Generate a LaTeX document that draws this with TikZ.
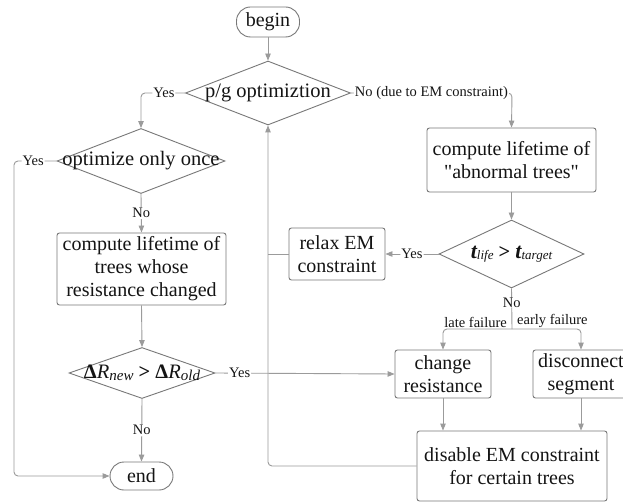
\documentclass[tikz,border=0pt]{standalone}
\usepackage{fontspec}
\setmainfont{Liberation Serif}
\usetikzlibrary{shapes.geometric,arrows.meta}
\definecolor{linegray}{RGB}{155,155,155}
\definecolor{boxgray}{RGB}{120,120,120}
\definecolor{txt}{RGB}{20,20,20}
\begin{document}
\begin{tikzpicture}[x=1pt,y=-1pt,
  box/.style={draw=boxgray, line width=0.9pt, rounded corners=2.5pt, align=center,
    inner sep=1pt, text=txt, font=\fontsize{20}{23}\selectfont},
  term/.style={box, rounded corners=14pt},
  dec/.style={diamond, draw=boxgray, line width=0.9pt, inner sep=0pt, text=txt,
    font=\fontsize{20.5}{23}\selectfont},
  conn/.style={draw=linegray, line width=0.9pt, rounded corners=4pt},
  arr/.style={conn, -{Triangle[length=7pt,width=5.5pt]}},
  lab/.style={font=\fontsize{14.5}{16}\selectfont, text=txt, fill=white, inner sep=1pt}]
\useasboundingbox[fill=white] (0,0) rectangle (623,502);

% nodes
\node[term, minimum width=63pt, minimum height=30pt] (begin) at (268,22) {begin};
\node[dec, minimum width=165pt, minimum height=64pt] (pg) at (268,93) {\makebox[0pt]{p/g optimiztion}};
\node[dec, minimum width=168pt, minimum height=65pt] (opt) at (141,161) {\makebox[0pt]{optimize only once}};
\node[box, minimum width=169pt, minimum height=72pt] (comp) at (141.5,269) {compute lifetime of\\trees whose\\resistance changed};
\node[dec, minimum width=146pt, minimum height=51pt] (delta) at (142,373)
  {\makebox[0pt]{{\bfseries Δ}{\itshape R}\raisebox{-1.5pt}{\fontsize{15}{16}\selectfont\itshape new} {\bfseries >} {\bfseries Δ}{\itshape R}\raisebox{-1.5pt}{\fontsize{15}{16}\selectfont\itshape old}}};
\node[term, minimum width=63pt, minimum height=28pt] (end) at (141.5,476) {end};
\node[box, minimum width=96pt, minimum height=52pt] (relax) at (337,254) {relax EM\\constraint};
\node[box, minimum width=169pt, minimum height=64pt] (abn) at (511.5,160) {compute lifetime of\\\textquotedbl abnormal trees\textquotedbl};
\node[dec, minimum width=145pt, minimum height=68pt] (tlife) at (511.5,254)
  {\makebox[0pt]{{\fontsize{22}{24}\selectfont\bfseries\itshape t}\raisebox{-1.5pt}{\fontsize{13}{14}\selectfont\itshape life} {\bfseries >} {\fontsize{22}{24}\selectfont\bfseries\itshape t}\raisebox{-1.5pt}{\fontsize{13}{14}\selectfont\itshape target}}};
\node[box, minimum width=96pt, minimum height=48pt] (change) at (443,374) {change\\resistance};
\node[box, minimum width=96pt, minimum height=48pt] (disc) at (581,374) {disconnect\\segment};
\node[box, minimum width=190pt, minimum height=70pt] (disable) at (512,466) {disable EM constraint\\for certain trees};

\coordinate (split) at (512,329);
\coordinate (leftc) at (14,161);
\coordinate (retc) at (268,466);

% connectors
\draw[arr] (begin) -- (pg);
\draw[arr] (pg.west) -- (141,93) node[lab, pos=0.48] {Yes} -- (opt.north);
\draw[arr] (pg.east) -- (512,93) node[lab, pos=0.5] {No (due to EM constraint)} -- (abn.north);
\draw[arr] (opt.west) -- (leftc) node[lab, pos=0.55] {Yes} |- (end.west);
\draw[arr] (opt.south) -- node[lab] {No} (comp.north);
\draw[arr] (comp.south) -- (delta.north);
\draw[arr] (delta.east) -- node[lab, pos=0.135] {Yes} (change.west);
\draw[arr] (delta.south) -- node[lab] {No} (end.north);
\draw[arr] (abn.south) -- (tlife.north);
\draw[arr] (tlife.west) -- node[lab] {Yes} (relax.east);
\draw[conn] (tlife.south) -- node[lab, pos=0.35, inner sep=0pt] {No} (split);
\draw[arr] (split) -| (change.north);
\draw[arr] (split) -| (disc.north);
\node[lab, fill=none, anchor=south east] (latelab) at (508,329) {late failure};
\node[lab, fill=none, anchor=south west] (earlylab) at (516,329) {early failure};
\draw[arr] (change.south) -- (change.south |- disable.north);
\draw[arr] (disc.south) -- (disc.south |- disable.north);
\draw[arr] (disable.west) -- (retc) -- (pg.south);
\draw[conn] (relax.west) -- (retc |- relax.west);
\end{tikzpicture}
\end{document}
